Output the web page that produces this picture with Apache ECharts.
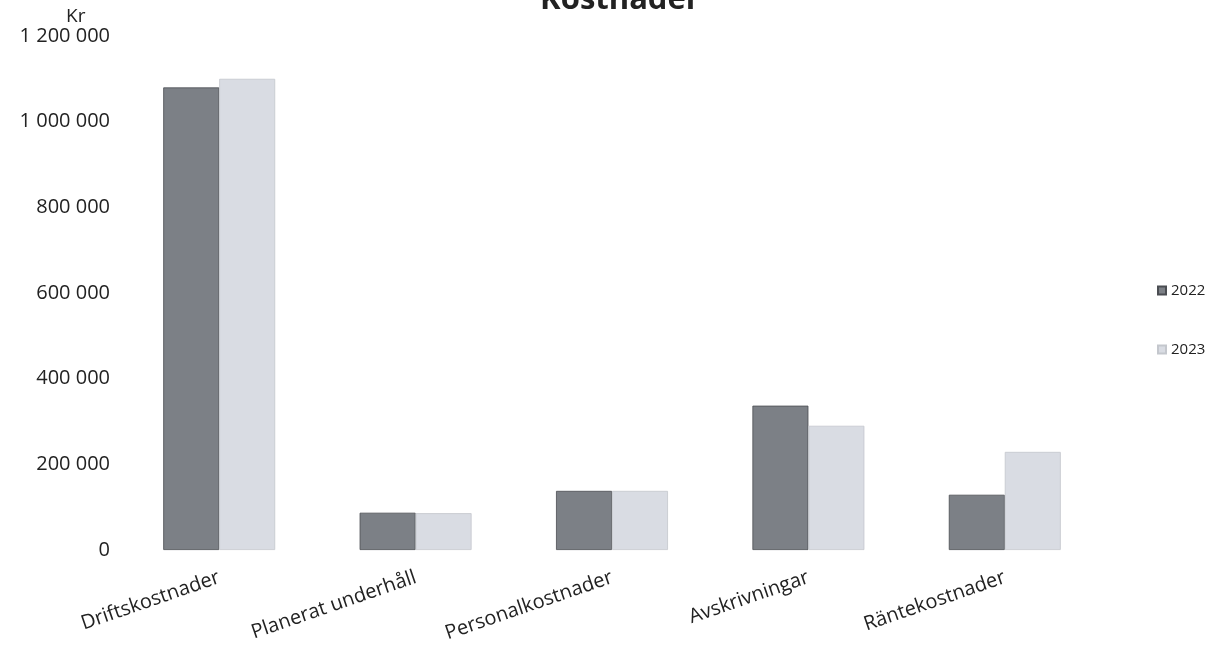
<!DOCTYPE html>
<html><head><meta charset="utf-8">
<script src="https://cdn.jsdelivr.net/npm/echarts@6/dist/echarts.min.js"></script>
<style>html,body{margin:0;padding:0;background:#fff}#c{width:1210px;height:651px}</style>
</head><body><div id="c"></div>
<script>
const categories = ['Driftskostnader','Planerat underhåll','Personalkostnader','Avskrivningar','Räntekostnader'];
const values2022 = [1080000, 87000, 138000, 337000, 129000];
const values2023 = [1100000, 86000, 138000, 290000, 229000];
const seriesNames = ['2022','2023'];
const yTicks = [0, 200000, 400000, 600000, 800000, 1000000, 1200000];

const fmt = v => String(v).replace(/\B(?=(\d{3})+(?!\d))/g, ' ');
const font = '"Open Sans", "Noto Sans", sans-serif';
const chart = echarts.init(document.getElementById('c'));
chart.setOption({
  animation: false,
  title: { text: 'Kostnader', left: 615, textAlign: 'center', top: -20,
    textStyle: { fontFamily: font, fontSize: 31, fontWeight: 'bold', color: '#222' } },
  legend: { orient: 'vertical', left: 1157, top: 283, padding: 0, itemGap: 44, itemWidth: 8, itemHeight: 8,
    icon: 'rect', itemTextGap: 2, textStyle: { fontFamily: font, fontSize: 15, color: '#222' },
    data: seriesNames },
  grid: { left: 121, right: 107, top: 36, bottom: 101, containLabel: false },
  xAxis: { type: 'category', data: categories,
    axisLine: { show: false }, axisTick: { show: false },
    axisLabel: { rotate: 19, margin: 27, fontFamily: font, fontSize: 20, color: '#222', interval: 0 } },
  yAxis: { type: 'value', min: yTicks[0], max: yTicks[yTicks.length-1], interval: 200000,
    name: 'Kr', nameLocation: 'end', nameGap: 6,
    nameTextStyle: { fontFamily: font, fontSize: 19, color: '#222', align: 'left', padding: [0,0,0,-55] },
    splitLine: { show: false }, axisLine: { show: false }, axisTick: { show: false },
    axisLabel: { margin: 11, fontFamily: font, fontSize: 20, color: '#222', formatter: fmt } },
  series: [
    { name: seriesNames[0], type: 'bar', data: values2022, barGap: '0%', barCategoryGap: '43%',
      itemStyle: { color: '#7c8086', borderColor: '#4a4d52', borderWidth: 0.8 } },
    { name: seriesNames[1], type: 'bar', data: values2023, barGap: '0%', barCategoryGap: '43%',
      itemStyle: { color: '#d9dce3', borderColor: '#c4c7cd', borderWidth: 0.8 } }
  ]
});
</script></body></html>
